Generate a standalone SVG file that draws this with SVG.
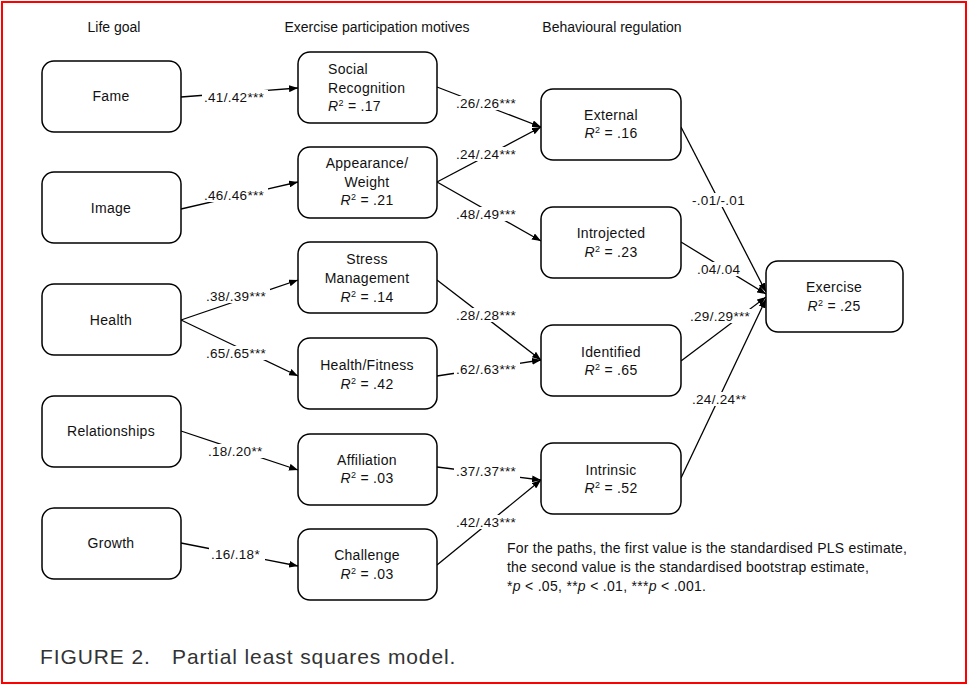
<svg xmlns="http://www.w3.org/2000/svg" width="968" height="685" viewBox="0 0 968 685">
<defs>
<marker id="ah" viewBox="0 0 9 7" refX="9" refY="3.5" markerWidth="9" markerHeight="7" markerUnits="userSpaceOnUse" orient="auto">
<path d="M0,0 L9,3.5 L0,7 z" fill="#000"/>
</marker>
</defs>
<style>
.box{fill:#fff;stroke:#000;stroke-width:1.5}
.t{font-family:"Liberation Sans",Arial,sans-serif;font-size:14px;fill:#111;letter-spacing:0.3px}
.c{text-anchor:middle}
.h{font-family:"Liberation Sans",Arial,sans-serif;font-size:14px;fill:#111;text-anchor:middle}
.ln{stroke:#000;stroke-width:1.3;fill:none;marker-end:url(#ah)}
.lb{font-family:"Liberation Sans",Arial,sans-serif;font-size:13.5px;fill:#111;letter-spacing:0.3px}
.bg{fill:#fff}
.i{font-style:italic}
.sup{font-size:9px}
.fn{font-family:"Liberation Sans",Arial,sans-serif;font-size:14px;fill:#111}
.cap{font-family:"Liberation Sans",Arial,sans-serif;font-size:21px;fill:#333;letter-spacing:0.9px}
</style>
<rect x="2" y="2" width="964" height="681" fill="#fff" stroke="#f00" stroke-width="2"/>

<text class="h" x="114" y="32">Life goal</text>
<text class="h" x="377" y="32">Exercise participation motives</text>
<text class="h" x="612" y="32">Behavioural regulation</text>

<g id="connectors">
<line class="ln" x1="181" y1="97" x2="298" y2="88"/>
<line class="ln" x1="181" y1="209" x2="298" y2="182"/>
<line class="ln" x1="181" y1="320" x2="298" y2="280"/>
<line class="ln" x1="181" y1="320" x2="298" y2="376"/>
<line class="ln" x1="181" y1="431" x2="298" y2="470"/>
<line class="ln" x1="181" y1="543" x2="298" y2="566"/>
<line class="ln" x1="437" y1="87" x2="541" y2="127"/>
<line class="ln" x1="437" y1="182" x2="541" y2="127"/>
<line class="ln" x1="437" y1="182" x2="541" y2="241"/>
<line class="ln" x1="437" y1="280" x2="541" y2="360"/>
<line class="ln" x1="437" y1="376" x2="541" y2="360"/>
<line class="ln" x1="437" y1="467" x2="541" y2="480"/>
<line class="ln" x1="437" y1="565" x2="541" y2="480"/>
<line class="ln" x1="681" y1="127" x2="766" y2="292"/>
<line class="ln" x1="681" y1="242" x2="766" y2="294"/>
<line class="ln" x1="681" y1="361" x2="766" y2="297"/>
<line class="ln" x1="681" y1="478" x2="766" y2="299"/>

<rect class="bg" x="202" y="90" width="66" height="14"/>
<text class="lb" x="204" y="102">.41/.42***</text>
<rect class="bg" x="202" y="188" width="66" height="14"/>
<text class="lb" x="204" y="200">.46/.46***</text>
<rect class="bg" x="204" y="289" width="66" height="14"/>
<text class="lb" x="206" y="301">.38/.39***</text>
<rect class="bg" x="204" y="346" width="66" height="14"/>
<text class="lb" x="206" y="358">.65/.65***</text>
<rect class="bg" x="206" y="444" width="60" height="14"/>
<text class="lb" x="208" y="456">.18/.20**</text>
<rect class="bg" x="209" y="547" width="56" height="14"/>
<text class="lb" x="211" y="559">.16/.18*</text>

<rect class="bg" x="454" y="96" width="66" height="14"/>
<text class="lb" x="456" y="108">.26/.26***</text>
<rect class="bg" x="454" y="147" width="66" height="14"/>
<text class="lb" x="456" y="159">.24/.24***</text>
<rect class="bg" x="454" y="207" width="66" height="14"/>
<text class="lb" x="456" y="219">.48/.49***</text>
<rect class="bg" x="454" y="308" width="66" height="14"/>
<text class="lb" x="456" y="320">.28/.28***</text>
<rect class="bg" x="454" y="362" width="66" height="14"/>
<text class="lb" x="456" y="374">.62/.63***</text>
<rect class="bg" x="454" y="464" width="66" height="14"/>
<text class="lb" x="456" y="476">.37/.37***</text>
<rect class="bg" x="454" y="515" width="66" height="14"/>
<text class="lb" x="456" y="527">.42/.43***</text>

<rect class="bg" x="690" y="193" width="56" height="14"/>
<text class="lb" x="692" y="205">-.01/-.01</text>
<rect class="bg" x="695" y="262" width="48" height="14"/>
<text class="lb" x="697" y="274">.04/.04</text>
<rect class="bg" x="688" y="309" width="66" height="14"/>
<text class="lb" x="690" y="321">.29/.29***</text>
<rect class="bg" x="690" y="392" width="60" height="14"/>
<text class="lb" x="692" y="404">.24/.24**</text>
</g>

<g id="fame"><rect class="box" x="42" y="61" width="139" height="71" rx="12"/><text class="t c" x="111" y="101">Fame</text></g>
<g id="image"><rect class="box" x="42" y="172" width="139" height="71" rx="12"/><text class="t c" x="111" y="213">Image</text></g>
<g id="health"><rect class="box" x="42" y="284" width="139" height="71" rx="12"/><text class="t c" x="111" y="325">Health</text></g>
<g id="relationships"><rect class="box" x="42" y="396" width="139" height="71" rx="12"/><text class="t c" x="111" y="436">Relationships</text></g>
<g id="growth"><rect class="box" x="42" y="508" width="139" height="71" rx="12"/><text class="t c" x="111" y="548">Growth</text></g>

<g id="social"><rect class="box" x="298" y="52" width="139" height="71" rx="12"/>
<text class="t" x="328" y="74">Social</text>
<text class="t" x="328" y="93">Recognition</text>
<text class="t" x="328" y="111"><tspan class="i">R</tspan><tspan class="sup" dy="-5">2</tspan><tspan dy="5"> = .17</tspan></text></g>
<g id="appearance"><rect class="box" x="298" y="147" width="139" height="71" rx="12"/>
<text class="t c" x="367" y="168">Appearance/</text>
<text class="t c" x="367" y="187">Weight</text>
<text class="t c" x="367" y="205"><tspan class="i">R</tspan><tspan class="sup" dy="-5">2</tspan><tspan dy="5"> = .21</tspan></text></g>
<g id="stress"><rect class="box" x="298" y="242" width="139" height="71" rx="12"/>
<text class="t c" x="367" y="264">Stress</text>
<text class="t c" x="367" y="283">Management</text>
<text class="t c" x="367" y="302"><tspan class="i">R</tspan><tspan class="sup" dy="-5">2</tspan><tspan dy="5"> = .14</tspan></text></g>
<g id="fitness"><rect class="box" x="298" y="338" width="139" height="71" rx="12"/>
<text class="t c" x="367" y="370">Health/Fitness</text>
<text class="t c" x="367" y="389"><tspan class="i">R</tspan><tspan class="sup" dy="-5">2</tspan><tspan dy="5"> = .42</tspan></text></g>
<g id="affiliation"><rect class="box" x="298" y="434" width="139" height="71" rx="12"/>
<text class="t c" x="367" y="465">Affiliation</text>
<text class="t c" x="367" y="483"><tspan class="i">R</tspan><tspan class="sup" dy="-5">2</tspan><tspan dy="5"> = .03</tspan></text></g>
<g id="challenge"><rect class="box" x="298" y="529" width="139" height="71" rx="12"/>
<text class="t c" x="367" y="560">Challenge</text>
<text class="t c" x="367" y="579"><tspan class="i">R</tspan><tspan class="sup" dy="-5">2</tspan><tspan dy="5"> = .03</tspan></text></g>

<g id="external"><rect class="box" x="541" y="89" width="140" height="71" rx="12"/>
<text class="t c" x="611" y="120">External</text>
<text class="t c" x="611" y="138"><tspan class="i">R</tspan><tspan class="sup" dy="-5">2</tspan><tspan dy="5"> = .16</tspan></text></g>
<g id="introjected"><rect class="box" x="541" y="207" width="140" height="71" rx="12"/>
<text class="t c" x="611" y="238">Introjected</text>
<text class="t c" x="611" y="257"><tspan class="i">R</tspan><tspan class="sup" dy="-5">2</tspan><tspan dy="5"> = .23</tspan></text></g>
<g id="identified"><rect class="box" x="541" y="325" width="140" height="71" rx="12"/>
<text class="t c" x="611" y="357">Identified</text>
<text class="t c" x="611" y="375"><tspan class="i">R</tspan><tspan class="sup" dy="-5">2</tspan><tspan dy="5"> = .65</tspan></text></g>
<g id="intrinsic"><rect class="box" x="541" y="443" width="140" height="71" rx="12"/>
<text class="t c" x="611" y="475">Intrinsic</text>
<text class="t c" x="611" y="493"><tspan class="i">R</tspan><tspan class="sup" dy="-5">2</tspan><tspan dy="5"> = .52</tspan></text></g>

<g id="exercise"><rect class="box" x="766" y="261" width="137" height="71" rx="12"/>
<text class="t c" x="834" y="292">Exercise</text>
<text class="t c" x="834" y="311"><tspan class="i">R</tspan><tspan class="sup" dy="-5">2</tspan><tspan dy="5"> = .25</tspan></text></g>

<g id="footnote">
<text class="fn" x="507" y="553" textLength="400" lengthAdjust="spacing">For the paths, the first value is the standardised PLS estimate,</text>
<text class="fn" x="507" y="572" textLength="362" lengthAdjust="spacing">the second value is the standardised bootstrap estimate,</text>
<text class="fn" x="507" y="591" textLength="199" lengthAdjust="spacing">*<tspan class="i">p</tspan> &lt; .05, **<tspan class="i">p</tspan> &lt; .01, ***<tspan class="i">p</tspan> &lt; .001.</text>
</g>

<text class="cap" y="664"><tspan x="40">FIGURE 2.</tspan><tspan x="172">Partial least squares model.</tspan></text>
</svg>
